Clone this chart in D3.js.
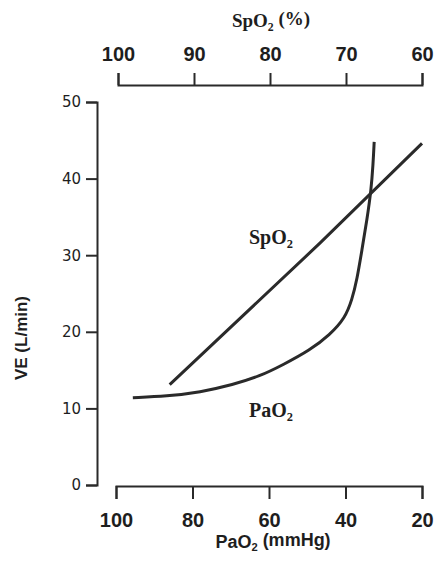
<!DOCTYPE html>
<html>
<head>
<meta charset="utf-8">
<script src="https://cdn.jsdelivr.net/npm/d3@7"></script>
<style>
  body { margin: 0; background: #fff; }
  .axis path, .axis line { stroke: #2a2a2a; stroke-width: 2px; }
  .axis text { fill: #1e1e1e; }
</style>
</head>
<body>
<div id="chart"><svg></svg></div>
<script>
var width = 436,
    height = 567;

// PaO2 curve (mmHg vs L/min)
var pao2X = [95.6, 86.7, 78.0, 69.4, 62.4, 56.3, 49.3, 44.1, 40.1, 38.3, 37.0, 35.7, 34.4, 33.3, 32.8, 32.5];
var pao2Y = [11.4, 11.6, 12.1, 13.1, 14.2, 15.7, 17.6, 19.6, 21.8, 24.2, 26.8, 30.7, 34.6, 38.5, 41.8, 44.8];

// SpO2 line (% vs L/min)
var spo2X = [93.2, 73.4, 60];
var spo2Y = [13.1, 31.6, 44.6];

var veTicks = [0, 10, 20, 30, 40, 50];
var paTicks = [100, 80, 60, 40, 20];
var spTicks = [100, 90, 80, 70, 60];

var x = d3.scaleLinear().domain([100, 20]).range([116, 422]);
var xTop = d3.scaleLinear().domain([100, 60]).range([118, 422]);
var y = d3.scaleLinear().domain([0, 50]).range([485, 102]);

var svg = d3.select("#chart svg")
  .attr("width", width)
  .attr("height", height);

// left axis
svg.append("g")
    .attr("class", "axis")
    .attr("transform", "translate(97,0)")
    .call(d3.axisLeft(y).tickValues(veTicks).tickSize(11).tickPadding(5))
  .selectAll("text")
    .style("font-family", "DejaVu Sans")
    .style("font-size", "15px");

// bottom axis
svg.append("g")
    .attr("class", "axis")
    .attr("transform", "translate(0,486)")
    .call(d3.axisBottom(x).tickValues(paTicks).tickSize(13).tickPadding(14))
  .selectAll("text")
    .style("font-family", "Liberation Sans")
    .style("font-weight", "bold")
    .style("font-size", "20px");

// top axis
svg.append("g")
    .attr("class", "axis")
    .attr("transform", "translate(0,85)")
    .call(d3.axisTop(xTop).tickValues(spTicks).tickSize(12).tickPadding(12))
  .selectAll("text")
    .style("font-family", "Liberation Sans")
    .style("font-weight", "bold")
    .style("font-size", "20px");

svg.selectAll(".axis .domain").attr("fill", "none");

// curves
var paLine = d3.line()
  .x(function (d, i) { return x(pao2X[i]); })
  .y(function (d, i) { return y(pao2Y[i]); })
  .curve(d3.curveBasis);

var spLine = d3.line()
  .x(function (d, i) { return xTop(spo2X[i]); })
  .y(function (d, i) { return y(spo2Y[i]); });

svg.append("path")
  .datum(pao2X)
  .attr("d", paLine)
  .attr("fill", "none")
  .attr("stroke", "#2a2a2a")
  .attr("stroke-width", 3);

svg.append("path")
  .datum(spo2X)
  .attr("d", spLine)
  .attr("fill", "none")
  .attr("stroke", "#2a2a2a")
  .attr("stroke-width", 3);

// labels
function subLabel(sel, main, sub, tail) {
  sel.append("tspan").text(main);
  sel.append("tspan").attr("dy", "0.3em").style("font-size", "0.62em").text(sub);
  if (tail) sel.append("tspan").attr("dy", "-0.3em").text(tail);
}

var t1 = svg.append("text")
  .attr("x", 249).attr("y", 244)
  .style("font-family", "Liberation Serif")
  .style("font-weight", "bold")
  .style("font-size", "20px")
  .attr("fill", "#1e1e1e");
subLabel(t1, "SpO", "2");

var t2 = svg.append("text")
  .attr("x", 249).attr("y", 417)
  .style("font-family", "Liberation Serif")
  .style("font-weight", "bold")
  .style("font-size", "20px")
  .attr("fill", "#1e1e1e");
subLabel(t2, "PaO", "2");

var t3 = svg.append("text")
  .attr("x", 271).attr("y", 27)
  .attr("text-anchor", "middle")
  .style("font-family", "Liberation Serif")
  .style("font-weight", "bold")
  .style("font-size", "19px")
  .attr("fill", "#1e1e1e");
subLabel(t3, "SpO", "2", " (%)");

var t4 = svg.append("text")
  .attr("x", 273).attr("y", 548)
  .attr("text-anchor", "middle")
  .style("font-family", "Liberation Sans")
  .style("font-weight", "bold")
  .style("font-size", "18px")
  .attr("fill", "#1e1e1e");
subLabel(t4, "PaO", "2", " (mmHg)");

svg.append("text")
  .attr("transform", "translate(27,338) rotate(-90)")
  .attr("text-anchor", "middle")
  .style("font-family", "Liberation Sans")
  .style("font-weight", "bold")
  .style("font-size", "17px")
  .attr("fill", "#1e1e1e")
  .text("VE (L/min)");
</script>
</body>
</html>
